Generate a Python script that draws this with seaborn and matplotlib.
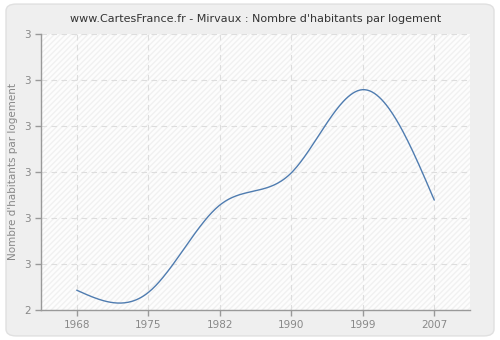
#!/usr/bin/env python

# Mirvaux: average number of inhabitants per dwelling, smooth line chart

import numpy as np
import pandas as pd
import seaborn as sns
from matplotlib import pyplot as plt
from matplotlib.patches import FancyBboxPatch, Rectangle

# values
years = ["1968", "1975", "1982", "1990", "1999", "2007"]
habitants = [2.443, 2.438, 2.628, 2.698, 2.879, 2.639]

# y tick positions and their (rounded) labels as shown on the chart
ytick_values = [2.4, 2.5, 2.6, 2.7, 2.8, 2.9, 3.0]
ytick_labels = ["2", "3", "3", "3", "3", "3", "3"]

df = pd.DataFrame({"annee": years, "valeur": habitants})
df["pos"] = range(len(df))


def natural_spline(x, y, n=300):
	# natural cubic spline, only used to draw the smooth line
	x = np.asarray(x, float)
	y = np.asarray(y, float)
	k = len(x)
	h = np.diff(x)
	A = np.zeros((k, k))
	b = np.zeros(k)
	A[0, 0] = A[-1, -1] = 1
	for i in range(1, k - 1):
		A[i, i - 1] = h[i - 1]
		A[i, i] = 2 * (h[i - 1] + h[i])
		A[i, i + 1] = h[i]
		b[i] = 6 * ((y[i + 1] - y[i]) / h[i] - (y[i] - y[i - 1]) / h[i - 1])
	M = np.linalg.solve(A, b)
	xs = np.linspace(x[0], x[-1], n)
	idx = np.clip(np.searchsorted(x, xs) - 1, 0, k - 2)
	x0, x1 = x[idx], x[idx + 1]
	hh = x1 - x0
	t0, t1 = x1 - xs, xs - x0
	ys = (M[idx] * t0**3 + M[idx + 1] * t1**3) / (6 * hh) \
		+ (y[idx] / hh - M[idx] * hh / 6) * t0 \
		+ (y[idx + 1] / hh - M[idx + 1] * hh / 6) * t1
	return xs, ys


xs, ys = natural_spline(df["pos"], df["valeur"])
curve = pd.DataFrame({"x": xs, "y": ys})

sns.set_theme(style="white")
plt.rcParams['font.family'] = ['DejaVu Sans']

fig = plt.figure(figsize=(5, 3.4), dpi=100, facecolor="white")

# rounded grey panel behind everything
fig.patches.append(FancyBboxPatch((0.012, 0.012), 0.976, 0.976,
	boxstyle="round,pad=0,rounding_size=0.02", transform=fig.transFigure,
	facecolor="#efefef", edgecolor="#e0e0e0", linewidth=1, zorder=-10))

ax = fig.add_axes([41 / 500, 30 / 340, 429 / 500, 276 / 340])
ax.set_facecolor("white")

# light diagonal hatching on the plotting area
ax.add_patch(Rectangle((0, 0), 1, 1, transform=ax.transAxes, facecolor="#fdfdfd",
	edgecolor="#f1f1f1", hatch="//////", linewidth=0, zorder=0))

sns.lineplot(data=curve, x="x", y="y", ax=ax, color="#4f7cb0", linewidth=1.0, zorder=3)

ax.set_xlim(-0.5, len(years) - 0.5)
ax.set_ylim(2.4, 3.0)
ax.set_xticks(df["pos"])
ax.set_xticklabels(years)
ax.set_yticks(ytick_values)
ax.set_yticklabels(ytick_labels)

ax.grid(True, color="#dddddd", linestyle=(0, (5, 4)), linewidth=0.8)
ax.set_axisbelow(True)

for side in ["top", "right"]:
	ax.spines[side].set_visible(False)
for side in ["left", "bottom"]:
	ax.spines[side].set_color("#999999")
	ax.spines[side].set_linewidth(1)

ax.tick_params(axis="both", colors="#999999", labelcolor="#888888", labelsize=7.5,
	length=4, width=1, direction="out", bottom=True, left=True)

ax.set_xlabel("")
ax.set_ylabel("Nombre d'habitants par logement", fontsize=7.5, color="#888888")
ax.set_title("www.CartesFrance.fr - Mirvaux : Nombre d'habitants par logement",
	fontsize=8, color="#333333", pad=9)

fig.savefig("out.png", dpi=100)
fig.clf()
